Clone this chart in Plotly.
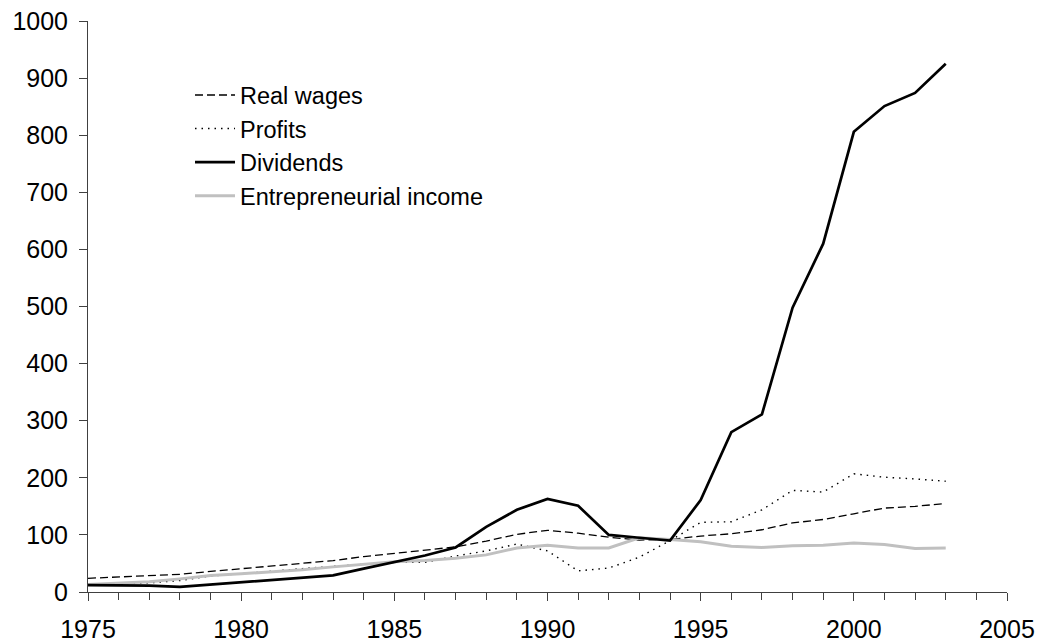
import plotly.graph_objects as go

years = list(range(1975, 2004))
real_wages = [24, 26, 29, 31, 36, 41, 46, 51, 55, 62, 68, 73, 79, 89, 101, 108, 103, 96, 91, 92, 98, 102, 109, 121, 127, 137, 147, 150, 155]
profits = [13, 15, 16, 20, 28, 32, 37, 41, 45, 48, 52, 52, 63, 72, 84, 72, 37, 42, 61, 90, 122, 123, 144, 178, 175, 207, 201, 198, 194]
dividends = [12, 12, 11, 9, 13, 16, 20, 25, 29, 41, 52, 64, 78, 114, 144, 163, 151, 100, 95, 90, 161, 280, 311, 498, 610, 806, 851, 874, 925]
entrepreneurial = [13, 16, 18, 23, 29, 32, 35, 39, 44, 48, 53, 55, 59, 65, 77, 82, 77, 77, 95, 92, 88, 80, 78, 81, 82, 86, 83, 76, 77]

x_ticks = [1975, 1980, 1985, 1990, 1995, 2000, 2005]
y_ticks = [0, 100, 200, 300, 400, 500, 600, 700, 800, 900, 1000]

FONT = "Arial, Liberation Sans, sans-serif"

fig = go.Figure()
fig.add_trace(go.Scatter(x=years, y=real_wages, mode="lines", name="Real wages", legendrank=1,
                         line=dict(color="black", width=1.3, dash="8px,4px")))
fig.add_trace(go.Scatter(x=years, y=profits, mode="lines", name="Profits", legendrank=2,
                         line=dict(color="black", width=1.4, dash="1.5px,5px")))
fig.add_trace(go.Scatter(x=years, y=entrepreneurial, mode="lines", name="Entrepreneurial income",
                         line=dict(color="#c0c0c0", width=3), legendrank=4))
fig.add_trace(go.Scatter(x=years, y=dividends, mode="lines", name="Dividends",
                         line=dict(color="black", width=2.7), legendrank=3))

fig.update_layout(
    width=1040, height=644,
    margin=dict(l=88, r=33, t=21, b=52, autoexpand=False),
    paper_bgcolor="white", plot_bgcolor="white",
    font=dict(family=FONT, color="black", size=25),
    showlegend=True,
    legend=dict(x=0.111, y=0.9085, xanchor="left", yanchor="top",
                bgcolor="rgba(0,0,0,0)", borderwidth=0,
                font=dict(family=FONT, size=23.5, color="black"),
                itemwidth=40, tracegroupgap=0, traceorder="normal"),
    xaxis=dict(range=[1975, 2005], tickvals=x_ticks, ticktext=[str(v) for v in x_ticks],
               showgrid=False, zeroline=False, showline=True, linecolor="#404040", linewidth=1,
               ticks="outside", ticklen=8, tickcolor="#404040", tickwidth=1, automargin=False,
               ticklabelstandoff=7,
               minor=dict(dtick=1, tick0=1975, ticks="outside", ticklen=7, tickcolor="#404040", tickwidth=1),
               tickfont=dict(size=25, family=FONT, color="black")),
    yaxis=dict(range=[0, 1000], tickvals=y_ticks, ticktext=[str(v) for v in y_ticks],
               showgrid=False, zeroline=False, showline=True, linecolor="#404040", linewidth=1,
               ticks="outside", ticklen=8, tickcolor="#404040", tickwidth=1, automargin=False,
               ticklabelstandoff=6,
               tickfont=dict(size=25, family=FONT, color="black")),
)

fig.write_html("out.html", config={"displayModeBar": False},
               post_script="document.body.style.margin='0';document.body.style.overflow='hidden';")
